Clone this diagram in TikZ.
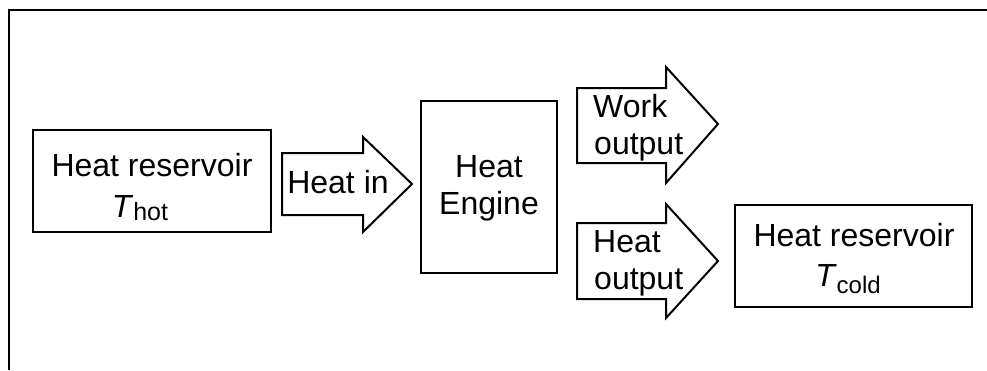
\documentclass[tikz,border=0pt]{standalone}
\usepackage{fontspec}
\setmainfont{Liberation Sans}
\begin{document}
\begin{tikzpicture}[x=1pt,y=-1pt,
  boxline/.style={draw=black,line width=2pt,line join=miter},
  lbl/.style={font=\fontsize{32}{41}\selectfont,inner sep=0pt,anchor=base},
  lbll/.style={font=\fontsize{32}{41}\selectfont,inner sep=0pt,anchor=base west}]
\useasboundingbox (0,0) rectangle (987,370);
\fill[white] (0,0) rectangle (987,370);
% frame
\draw[line width=2pt] (9,370) -- (9,10) -- (987,10);
% hot reservoir
\draw[boxline] (33,130) rectangle (271,232);
\node[lbl] (hota) at (152,176) {Heat reservoir};
\node[lbl] (hotb) at (140,217) {\textit{T}\raisebox{-0.1em}{\fontsize{25}{25}\selectfont hot}};
% heat in arrow
\draw[boxline] (282,153) -- (363,153) -- (363,137) -- (412,184) -- (363,232) -- (363,215) -- (282,215) -- cycle;
\node[lbl] (heatin) at (338,193) {Heat in};
% engine
\draw[boxline] (421,101) rectangle (557,273);
\node[lbl] (enga) at (489,177) {Heat};
\node[lbl] (engb) at (489,214) {Engine};
% work output arrow
\draw[boxline] (577,88) -- (666,88) -- (666,67) -- (718,124) -- (666,183) -- (666,163) -- (577,163) -- cycle;
\node[lbll] (worka) at (593,117) {Work};
\node[lbll] (workb) at (594,154) {output};
% heat output arrow
\draw[boxline] (577,223) -- (666,223) -- (666,204) -- (718,261) -- (666,318) -- (666,299) -- (577,299) -- cycle;
\node[lbll] (outa) at (593,252) {Heat};
\node[lbll] (outb) at (594,289) {output};
% cold reservoir
\draw[boxline] (735,205) rectangle (972,307);
\node[lbl] (colda) at (854,246) {Heat reservoir};
\node[lbl] (coldb) at (848,286) {\textit{T}\raisebox{-0.22em}{\fontsize{24}{24}\selectfont cold}};
\end{tikzpicture}
\end{document}
